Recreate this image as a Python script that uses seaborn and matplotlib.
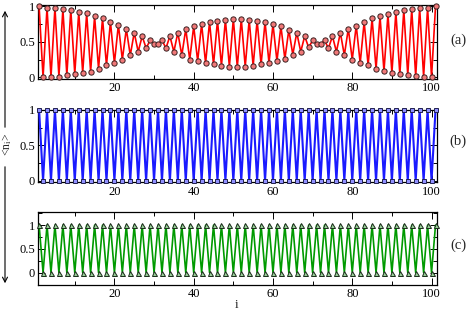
import numpy as np
import pandas as pd
import matplotlib
matplotlib.use("Agg")
import matplotlib.pyplot as plt
import seaborn as sns
from matplotlib.ticker import MultipleLocator, FixedLocator

# ---- data ----
site = list(range(1, 102))
density_a = [1.00, 0.00, 0.98, 0.005, 0.98, 0.01, 0.96, 0.03, 0.95, 0.05,
             0.92, 0.065, 0.90, 0.08, 0.86, 0.12, 0.83, 0.17, 0.78, 0.20,
             0.74, 0.25, 0.68, 0.31, 0.63, 0.36, 0.58, 0.41, 0.52, 0.47,
             0.465, 0.525, 0.41, 0.58, 0.36, 0.63, 0.31, 0.68, 0.25, 0.72,
             0.23, 0.75, 0.20, 0.78, 0.18, 0.80, 0.16, 0.81, 0.15, 0.82,
             0.145, 0.82, 0.15, 0.81, 0.16, 0.80, 0.18, 0.78, 0.20, 0.75,
             0.23, 0.72, 0.26, 0.67, 0.32, 0.63, 0.36, 0.58, 0.42, 0.52,
             0.465, 0.465, 0.52, 0.41, 0.58, 0.36, 0.63, 0.31, 0.685, 0.25,
             0.73, 0.20, 0.78, 0.17, 0.83, 0.12, 0.86, 0.085, 0.89, 0.06,
             0.92, 0.04, 0.95, 0.03, 0.96, 0.015, 0.975, 0.01, 0.98, 0.00,
             1.00]
density_b = [1, 0] * 50 + [1]
density_c = [1, 0] * 50 + [1]
x_ticks = [20, 40, 60, 80, 100]
y_ticks = [0, 0.5, 1]
y_tick_labels = ["0", "0.5", "1"]
panel_labels = ["(a)", "(b)", "(c)"]

df = pd.DataFrame({"i": site, "a": density_a, "b": density_b, "c": density_c})

sns.set_theme(style="ticks")
plt.rcParams["font.family"] = ["Liberation Serif", "DejaVu Serif"]
plt.rcParams["mathtext.fontset"] = "custom"
plt.rcParams["mathtext.rm"] = "Liberation Serif"
plt.rcParams["mathtext.it"] = "Liberation Serif"
plt.rcParams["xtick.direction"] = "in"
plt.rcParams["ytick.direction"] = "in"

W, H = 471, 314
fig = plt.figure(figsize=(W / 100, H / 100), dpi=100)

def frac(left, top, right, bottom):
    return [left / W, 1 - bottom / H, (right - left) / W, (bottom - top) / H]

axes = [
    fig.add_axes(frac(38.3, 5, 436.7, 79)),
    fig.add_axes(frac(38.3, 110, 436.7, 182.3)),
    fig.add_axes(frac(38.3, 212.3, 436.7, 285)),
]
ylims = [(-0.025, 1.02), (-0.023, 1.0), (-0.26, 1.27)]
styles = [
    dict(y="a", color="#ff0000", marker="o", mfc="#f07878", mec="#3a2020", ms=3.8, lw=1.2),
    dict(y="b", color="#1a1aff", marker="s", mfc="#9090ff", mec="#202050", ms=2.8, lw=1.5),
    dict(y="c", color="#009a00", marker="^", mfc="#9ad09a", mec="#1a2a1a", ms=3.6, lw=1.2),
]
label_y = [40, 141, 245]

for ax, st, yl, lab, ly in zip(axes, styles, ylims, panel_labels, label_y):
    sns.lineplot(data=df, x="i", y=st["y"], ax=ax, color=st["color"], lw=st["lw"],
                 marker=st["marker"], markerfacecolor=st["mfc"], markeredgecolor=st["mec"],
                 markersize=st["ms"], markeredgewidth=0.7, estimator=None, clip_on=False,
                 zorder=3)
    ax.set_xlim(0.8, 101.3)
    ax.set_ylim(*yl)
    ax.xaxis.set_major_locator(FixedLocator(x_ticks))
    ax.xaxis.set_minor_locator(MultipleLocator(10))
    ax.yaxis.set_major_locator(FixedLocator(y_ticks))
    ax.set_yticklabels(y_tick_labels)
    ax.yaxis.set_minor_locator(MultipleLocator(0.25))
    ax.tick_params(which="both", top=True, right=True, direction="in",
                   labelsize=9, width=0.7, colors="black", pad=2.5)
    ax.tick_params(which="major", length=5)
    ax.tick_params(which="minor", length=2.8)
    ax.set_xlabel("")
    ax.set_ylabel("")
    for s in ax.spines.values():
        s.set_linewidth(0.9)
        s.set_color("black")
        s.set_visible(True)
    fig.text(458 / W, 1 - ly / H, lab, ha="center", va="center", fontsize=10.5)

fig.text(237 / W, 1 - 305 / H, "i", ha="center", va="center", fontsize=9.5)
fig.text(7.5 / W, 1 - 144 / H, r"<n$_{\rm i}$>", ha="center", va="center",
         rotation=90, fontsize=8.5)
astyle = "->,head_length=0.35,head_width=0.18"
fig.add_artist(matplotlib.patches.FancyArrowPatch(
    (5 / W, 1 - 130 / H), (5 / W, 1 - 8 / H), transform=fig.transFigure,
    arrowstyle=astyle, lw=0.8, color="black", mutation_scale=10))
fig.add_artist(matplotlib.patches.FancyArrowPatch(
    (5 / W, 1 - 164 / H), (5 / W, 1 - 286 / H), transform=fig.transFigure,
    arrowstyle=astyle, lw=0.8, color="black", mutation_scale=10))

fig.savefig("out.png", dpi=100)
